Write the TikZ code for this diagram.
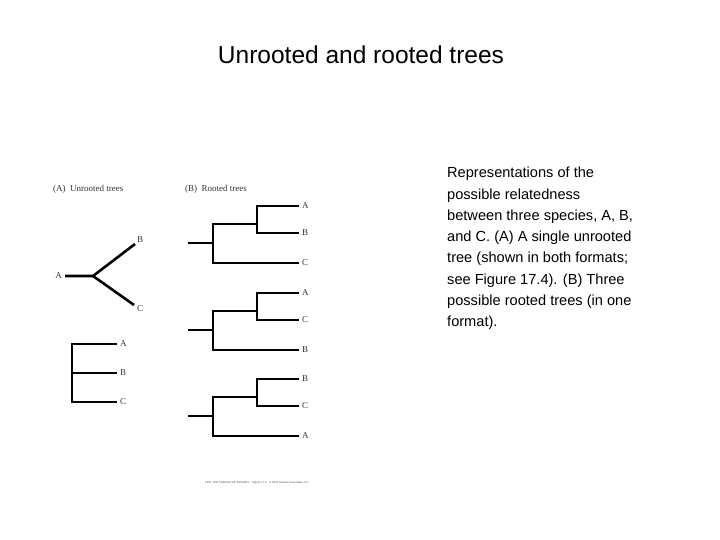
\documentclass[tikz,border=0pt]{standalone}
\usepackage{fontspec}
\setmainfont{Liberation Sans}
\newfontfamily\serifsm{Liberation Serif}
\begin{document}
\begin{tikzpicture}[x=1pt,y=-1pt,
  br/.style={line width=2.6pt,line cap=butt},
  lab/.style={font=\serifsm\fontsize{9}{10}\selectfont,anchor=west,inner sep=1pt,text=black!80},
  hd/.style={font=\serifsm\fontsize{9}{10}\selectfont,anchor=west,inner sep=0pt,text=black!80}]
\useasboundingbox (0,0) rectangle (720,540);
\node (title) at (361,55) {\fontsize{24.5}{28}\selectfont Unrooted and rooted trees};
\node[anchor=north west,align=left,inner sep=0pt,font=\fontsize{14.6}{21.3}\selectfont] (desc) at (447,167)
 {Representations of the\\possible relatedness\\between three species, A, B,\\and C. (A) A single unrooted\\tree (shown in both formats;\\see Figure 17.4). (B) Three\\possible rooted trees (in one\\format).};
\node[hd] (ha) at (53,189) {(A)\ \ Unrooted trees};
\node[hd] (hb) at (185,189) {(B)\ \ Rooted trees};
% unrooted
\coordinate (ua) at (65,276); \coordinate (uc0) at (93,276);
\coordinate (ub) at (135,244); \coordinate (ucc) at (134,305);
\draw[br,line join=miter] (ua) -- (uc0) -- (ub);
\draw[br] (uc0) -- (ucc);
\node[lab,anchor=east] (lA) at (63,276) {A};
\node[lab] (lB) at (136,240) {B};
\node[lab] (lC) at (136,309) {C};
% rectangular unrooted
\coordinate (r1) at (72,344); \coordinate (r2) at (72,373); \coordinate (r3) at (72,402);
\draw[br,line join=miter] (117,344) -- (r1) -- (r3) -- (117,402);
\draw[br] (r2) -- (117,373);
\node[lab] (ra) at (119,344) {A};
\node[lab] (rb) at (119,373) {B};
\node[lab] (rc) at (119,402) {C};
% rooted trees
\foreach \dy/\la/\lb/\lc [count=\i] in {0/A/B/C, 87/A/C/B, 173/B/C/A}{
  \begin{scope}[yshift=-\dy pt]
  \coordinate (s\i) at (188,243);
  \coordinate (n\i) at (213,243);
  \draw[br] (s\i) -- (n\i);
  \draw[br,line join=miter] (257,224) -- (213,224) -- (213,263) -- (299,263);
  \draw[br,line join=miter] (299,206) -- (257,206) -- (257,233) -- (299,233);
  \node[lab] (a\i) at (301,206) {\la};
  \node[lab] (b\i) at (301,233) {\lb};
  \node[lab] (c\i) at (301,263) {\lc};
  \end{scope}}
\node[anchor=west,inner sep=0pt,font=\fontsize{2.8}{3}\selectfont,text=black!70] (foot) at (205,483) {LIFE: THE SCIENCE OF BIOLOGY\quad Figure 17.5\quad \textcopyright\ 2004 Sinauer Associates, Inc.};
\end{tikzpicture}
\end{document}
